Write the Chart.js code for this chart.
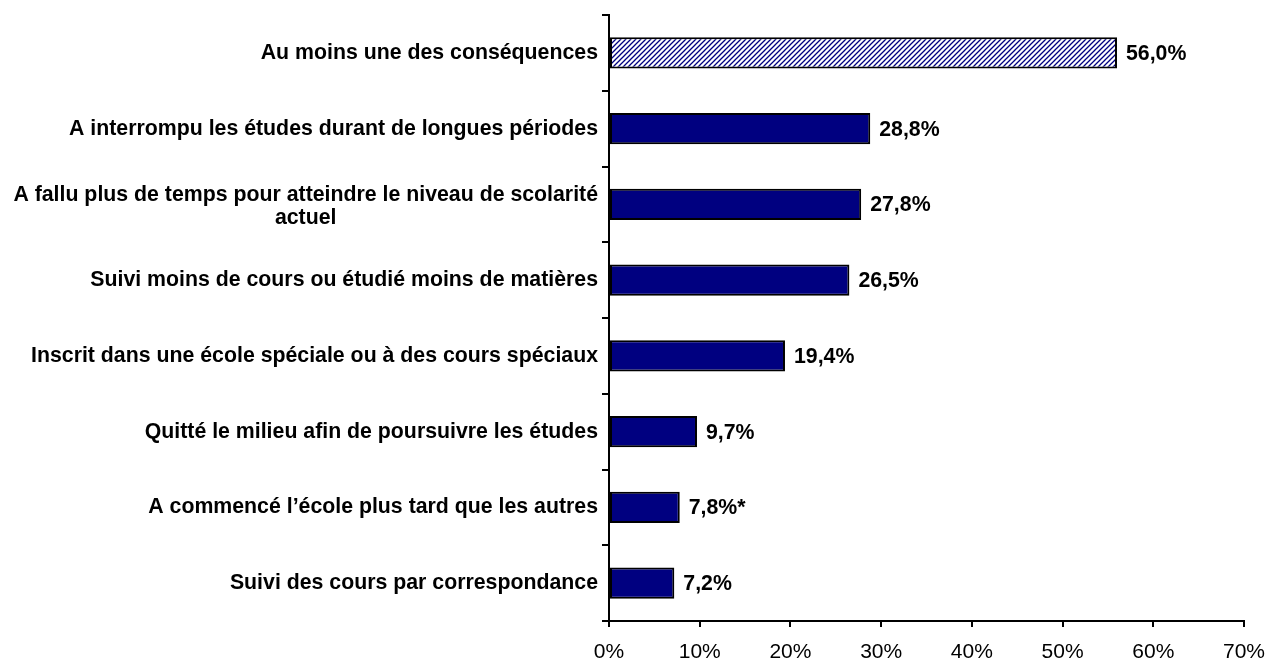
<!DOCTYPE html>
<html>
<head>
<meta charset="utf-8">
<script src="https://cdn.jsdelivr.net/npm/chart.js@4.4.1/dist/chart.umd.min.js"></script>
<style>
  html, body { margin: 0; padding: 0; background: #fff; }
  #wrap { width: 1266px; height: 661px; }
</style>
</head>
<body>
<div id="wrap"><canvas id="chart" width="1266" height="661"></canvas></div>
<script>
const categories = [
  ["Au moins une des conséquences"],
  ["A interrompu les études durant de longues périodes"],
  ["A fallu plus de temps pour atteindre le niveau de scolarité", "actuel"],
  ["Suivi moins de cours ou étudié moins de matières"],
  ["Inscrit dans une école spéciale ou à des cours spéciaux"],
  ["Quitté le milieu afin de poursuivre les études"],
  ["A commencé l’école plus tard que les autres"],
  ["Suivi des cours par correspondance"]
];
const values = [56.0, 28.8, 27.8, 26.5, 19.4, 9.7, 7.8, 7.2];
const valueLabels = ["56,0%", "28,8%", "27,8%", "26,5%", "19,4%", "9,7%", "7,8%*", "7,2%"];
const xTicks = [0, 10, 20, 30, 40, 50, 60, 70];

const FONT = "'Liberation Sans', Arial, sans-serif";
const NAVY = "#000080";

// hatch pattern for the first bar
function hatch() {
  const c = document.createElement("canvas");
  c.width = 5; c.height = 5;
  const g = c.getContext("2d");
  g.fillStyle = "#fff";
  g.fillRect(0, 0, 5, 5);
  g.strokeStyle = NAVY;
  g.lineWidth = 1.3;
  g.beginPath();
  g.moveTo(-1, 6); g.lineTo(6, -1);
  g.moveTo(-1, 1); g.lineTo(1, -1);
  g.moveTo(4, 6); g.lineTo(6, 4);
  g.stroke();
  return g.createPattern(c, "repeat");
}

const fills = values.map((v, i) => i === 0 ? hatch() : NAVY);

const labelsPlugin = {
  id: "labels",
  afterDraw(chart) {
    const ctx = chart.ctx;
    const y = chart.scales.y;
    const meta = chart.getDatasetMeta(0);
    ctx.save();
    ctx.fillStyle = "#000";
    ctx.font = "bold 21.3px " + FONT;
    ctx.textBaseline = "middle";

    // category labels, right aligned, lines centred in their block
    categories.forEach((lines, i) => {
      const cy = y.getPixelForValue(i);
      const w = Math.max(...lines.map(l => ctx.measureText(l).width));
      const right = chart.chartArea.left - 11;
      const lh = 23;
      const top = cy - (lines.length - 1) * lh / 2 + (lines.length > 1 ? 2 : 0);
      ctx.textAlign = "center";
      lines.forEach((l, k) => ctx.fillText(l, right - w / 2, top + k * lh));
    });

    // value labels at bar ends
    ctx.textAlign = "left";
    meta.data.forEach((bar, i) => {
      ctx.fillText(valueLabels[i], bar.x + 9, bar.y + 1);
    });
    ctx.restore();
  }
};

new Chart(document.getElementById("chart"), {
  type: "bar",
  data: {
    labels: categories,
    datasets: [{
      data: values,
      backgroundColor: fills,
      borderColor: "#000",
      borderWidth: 2,
      borderSkipped: false,
      barPercentage: 0.41,
      categoryPercentage: 1
    }]
  },
  options: {
    indexAxis: "y",
    responsive: false,
    animation: false,
    layout: { padding: { top: 15, right: 22, left: 0, bottom: 0 } },
    plugins: { legend: { display: false }, tooltip: { enabled: false } },
    scales: {
      x: {
        min: 0,
        max: 70,
        afterBuildTicks: s => { s.ticks = xTicks.map(v => ({ value: v })); },
        afterFit: s => { s.height = 40; s.paddingLeft = 0; s.paddingRight = 0; },
        border: { color: "#000", width: 2 },
        grid: { drawOnChartArea: false, drawTicks: true, tickLength: 6, color: "#000", lineWidth: 2 },
        ticks: {
          callback: v => v + "%",
          color: "#000",
          padding: 13,
          maxRotation: 0,
          font: { family: FONT, size: 21 }
        }
      },
      y: {
        afterFit: s => { s.width = 609; },
        border: { color: "#000", width: 2 },
        grid: { offset: true, drawOnChartArea: false, drawTicks: true, tickLength: 7, color: "#000", lineWidth: 2 },
        ticks: { display: false }
      }
    }
  },
  plugins: [labelsPlugin]
});
</script>
</body>
</html>
